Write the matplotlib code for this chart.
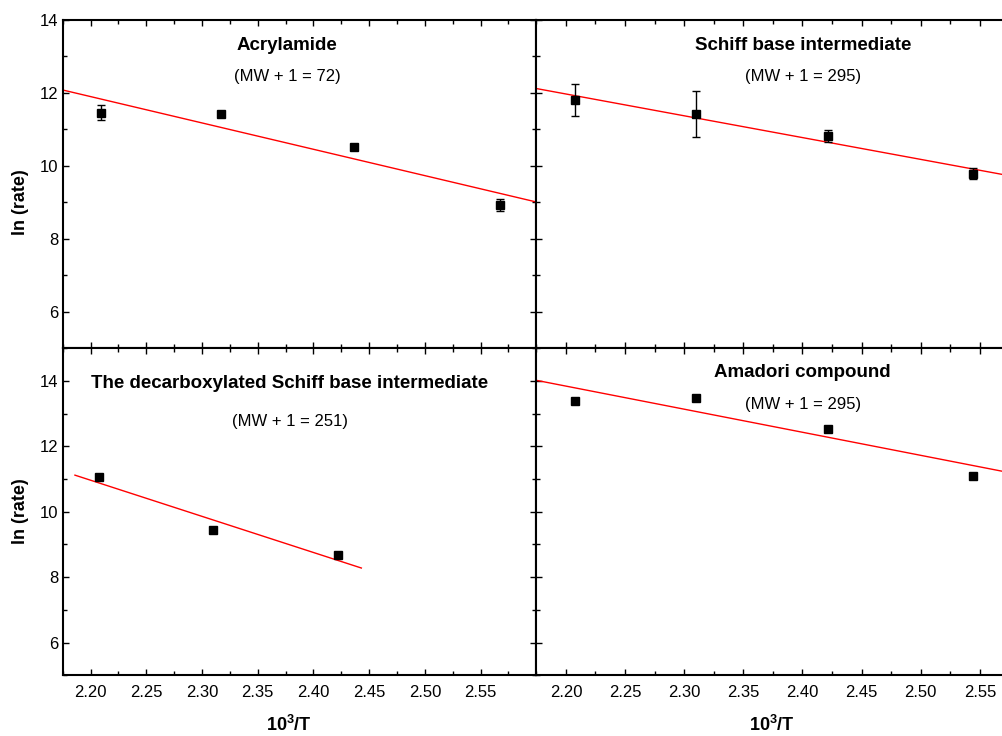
import matplotlib
matplotlib.use('Agg')
import matplotlib.pyplot as plt
from matplotlib.ticker import MultipleLocator

plt.rcParams['font.family'] = ['Liberation Sans', 'DejaVu Sans']
plt.rcParams['mathtext.fontset'] = 'custom'
plt.rcParams['mathtext.rm'] = 'Liberation Sans'
plt.rcParams['mathtext.bf'] = 'Liberation Sans:bold'

# Acrylamide
acr_x = [2.209, 2.317, 2.436, 2.567]
acr_y = [11.46, 11.42, 10.51, 8.92]
acr_err = [0.21, 0.0, 0.0, 0.16]
acr_fit_x = [2.175, 2.60]
acr_fit_y = [12.08, 9.01]

# Schiff base intermediate
sch_x = [2.2076, 2.3096, 2.4212, 2.5443]
sch_y = [11.81, 11.42, 10.82, 9.79]
sch_err = [0.44, 0.63, 0.16, 0.16]
sch_fit_x = [2.175, 2.60]
sch_fit_y = [12.12, 9.58]

# decarboxylated Schiff base intermediate
dec_x = [2.2077, 2.3095, 2.4217]
dec_y = [11.06, 9.43, 8.69]
dec_fit_x = [2.186, 2.443]
dec_fit_y = [11.12, 8.28]

# Amadori compound
ama_x = [2.2076, 2.3096, 2.4212, 2.5443]
ama_y = [13.40, 13.48, 12.53, 11.10]
ama_fit_x = [2.175, 2.60]
ama_fit_y = [14.02, 11.02]

fig = plt.figure(figsize=(10.03, 7.36), dpi=100)
ax1 = fig.add_axes([0.0625, 0.5268, 0.4722, 0.4461])
ax2 = fig.add_axes([0.5347, 0.5268, 0.4663, 0.4461])
ax3 = fig.add_axes([0.0625, 0.0825, 0.4722, 0.4443])
ax4 = fig.add_axes([0.5347, 0.0825, 0.4663, 0.4443])


def style(ax, xmax, ylim, xlabels, ylabels, right=True):
    ax.set_xlim(2.175, xmax)
    ax.set_ylim(*ylim)
    ax.xaxis.set_major_locator(MultipleLocator(0.05))
    ax.xaxis.set_minor_locator(MultipleLocator(0.025))
    ax.yaxis.set_major_locator(MultipleLocator(2))
    ax.yaxis.set_minor_locator(MultipleLocator(1))
    ax.tick_params(which='both', direction='in', top=True, right=right, width=1)
    ax.tick_params(which='major', length=4)
    ax.tick_params(which='minor', length=3)
    ax.tick_params(axis='x', pad=7, labelsize=12)
    ax.tick_params(axis='y', pad=3, labelsize=12)
    ax.set_xticks([2.20, 2.25, 2.30, 2.35, 2.40, 2.45, 2.50, 2.55])
    ax.xaxis.set_major_formatter(lambda v, p: '%.2f' % v)
    ax.set_yticks([6, 8, 10, 12, 14])
    if not xlabels:
        ax.tick_params(axis='x', labelbottom=False)
    if not ylabels:
        ax.tick_params(axis='y', labelleft=False)
    for s in ax.spines.values():
        s.set_linewidth(1.5)
    if not right:
        ax.spines['right'].set_visible(False)


style(ax1, 2.60, (5, 14), False, True)
style(ax2, 2.5704, (5, 14), False, False, right=False)
style(ax3, 2.60, (5, 15), True, True)
style(ax4, 2.5704, (5, 15), True, False, right=False)

mk = dict(fmt='s', color='black', markersize=5.5, ecolor='black',
          elinewidth=1, capsize=3, capthick=1, zorder=3)
fit = dict(color='red', linewidth=1)

ax1.plot(acr_fit_x, acr_fit_y, **fit)
ax1.errorbar(acr_x, acr_y, yerr=acr_err, **mk)
ax2.plot(sch_fit_x, sch_fit_y, **fit)
ax2.errorbar(sch_x, sch_y, yerr=sch_err, **mk)
ax3.plot(dec_fit_x, dec_fit_y, **fit)
ax3.errorbar(dec_x, dec_y, **mk)
ax4.plot(ama_fit_x, ama_fit_y, **fit)
ax4.errorbar(ama_x, ama_y, **mk)

tb = dict(ha='center', va='center', fontsize=13.5, fontweight='bold')
tn = dict(ha='center', va='center', fontsize=12)
ax1.text(0.4736, 0.9208, 'Acrylamide', transform=ax1.transAxes, **tb)
ax1.text(0.4736, 0.8264, '(MW + 1 = 72)', transform=ax1.transAxes, **tn)
ax2.text(0.5703, 0.9208, 'Schiff base intermediate', transform=ax2.transAxes, **tb)
ax2.text(0.5703, 0.8264, '(MW + 1 = 295)', transform=ax2.transAxes, **tn)
ax3.text(0.480, 0.8908, 'The decarboxylated Schiff base intermediate',
         transform=ax3.transAxes, **tb)
ax3.text(0.480, 0.7776, '(MW + 1 = 251)', transform=ax3.transAxes, **tn)
ax4.text(0.5696, 0.9254, 'Amadori compound', transform=ax4.transAxes, **tb)
ax4.text(0.5696, 0.8266, '(MW + 1 = 295)', transform=ax4.transAxes, **tn)

for ax, yc in [(ax1, 0.4456), (ax3, 0.5024)]:
    ax.set_ylabel('ln (rate)', fontsize=13, fontweight='bold')
    ax.yaxis.set_label_coords(-0.071, yc)

for ax, xc in [(ax3, 0.478), (ax4, 0.504)]:
    ax.set_xlabel(r'$\mathbf{10^3/T}$', fontsize=13)
    ax.xaxis.set_label_coords(xc, -0.122)

fig.savefig('out.png', dpi=100)
